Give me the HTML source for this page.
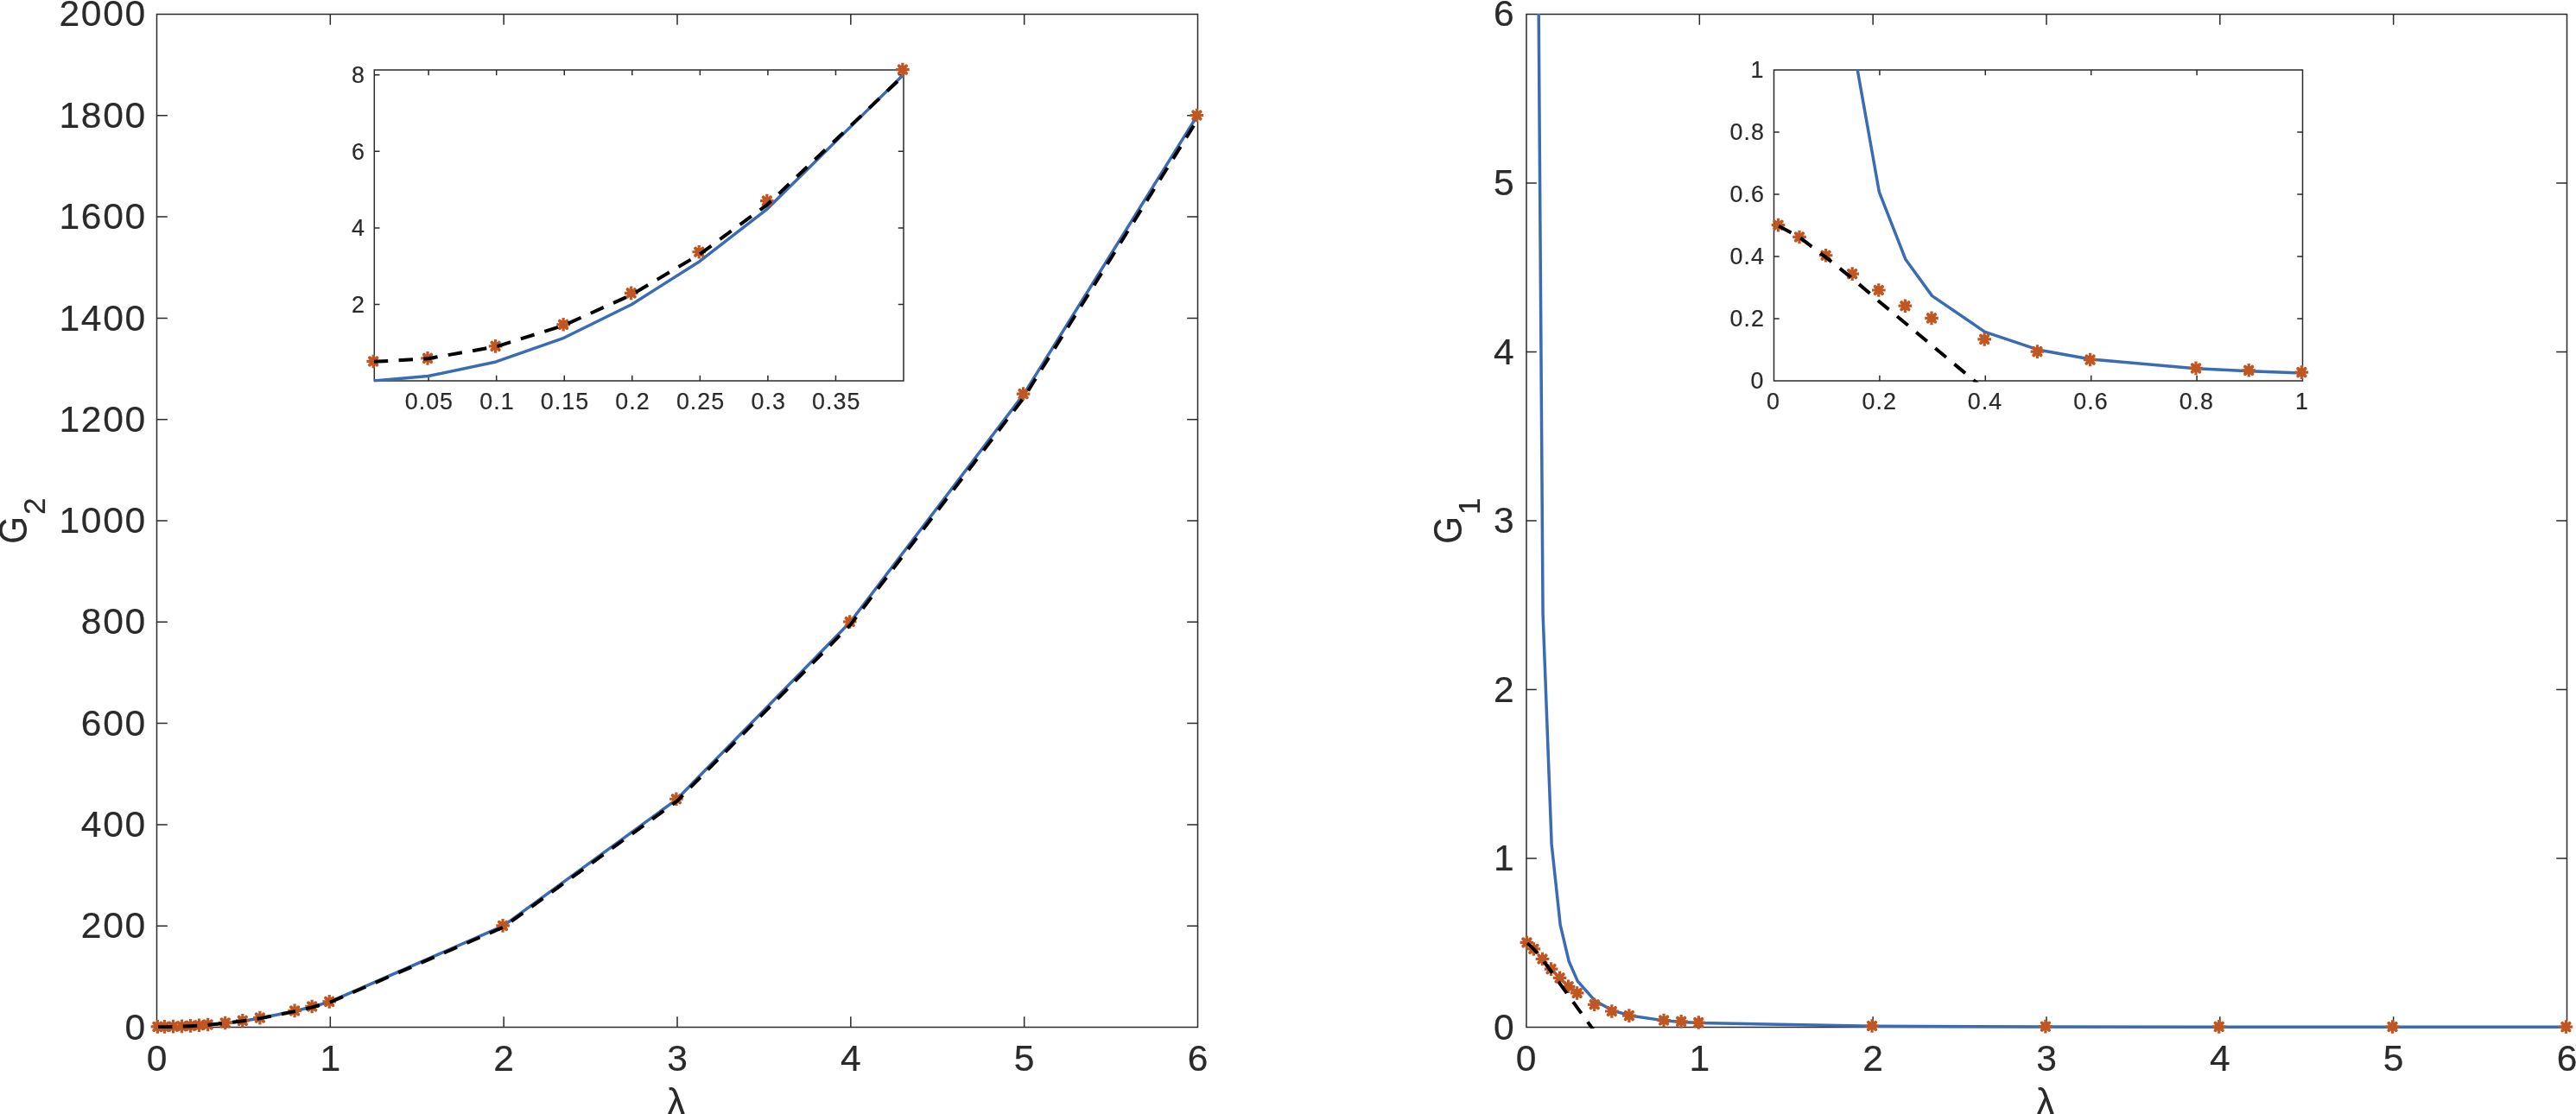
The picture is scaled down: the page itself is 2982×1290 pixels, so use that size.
<!DOCTYPE html>
<html lang="en"><head><meta charset="utf-8"><title>G2 and G1 versus lambda</title>
<style>html,body{margin:0;padding:0;background:#fff;overflow:hidden}svg{display:block;will-change:transform;filter:blur(.45px)}text{font-family:"Liberation Sans",sans-serif;fill:#2a2a2a;stroke:#2a2a2a;stroke-width:.2px}</style></head>
<body><svg width="2982" height="1290" viewBox="0 0 2982 1290">
<rect width="2982" height="1290" fill="#fff"/>
<defs><g id="m" stroke="#c05621" fill="none"><circle r="4.7" fill="#c05621" stroke="none"/><path d="M-7.8 0H7.8M0 -7.8V7.8" stroke-width="3.2"/><path d="M-4.2 -4.2L4.2 4.2M-4.2 4.2L4.2 -4.2" stroke-width="3.9" stroke-linecap="round"/></g>
<clipPath id="cl"><rect x="180.9" y="15.9" width="1207.1" height="1175.1"/></clipPath>
<clipPath id="cr"><rect x="1765.9" y="15.9" width="1207.1" height="1175.1"/></clipPath>
<clipPath id="cli"><rect x="432.7" y="80.4" width="614.8" height="362"/></clipPath>
<clipPath id="cri"><rect x="2052.9" y="80.4" width="614.1" height="362"/></clipPath>
</defs>
<path d="M181.5 16.5H1386.5V1189.5H181.5ZM382.33 1189.5v-12.3M382.33 16.5v12.3M583.17 1189.5v-12.3M583.17 16.5v12.3M784 1189.5v-12.3M784 16.5v12.3M984.83 1189.5v-12.3M984.83 16.5v12.3M1185.67 1189.5v-12.3M1185.67 16.5v12.3M181.5 1072.2h12.3M1386.5 1072.2h-12.3M181.5 954.9h12.3M1386.5 954.9h-12.3M181.5 837.6h12.3M1386.5 837.6h-12.3M181.5 720.3h12.3M1386.5 720.3h-12.3M181.5 603h12.3M1386.5 603h-12.3M181.5 485.7h12.3M1386.5 485.7h-12.3M181.5 368.4h12.3M1386.5 368.4h-12.3M181.5 251.1h12.3M1386.5 251.1h-12.3M181.5 133.8h12.3M1386.5 133.8h-12.3" fill="none" stroke="#2a2a2a" stroke-width="1.5"/>
<polyline clip-path="url(#cl)" points="183.01,1189.5 191.04,1189.43 201.08,1189.21 211.12,1188.84 221.17,1188.33 231.21,1187.67 241.25,1186.86 261.33,1184.81 281.42,1182.17 301.5,1178.94 341.67,1170.73 361.75,1165.75 381.83,1160.17 582.67,1072.2 783.5,925.58 984.33,720.3 1185.17,456.38 1386,133.8" fill="none" stroke="#3a6bb5" stroke-width="3.5" stroke-linejoin="round"/>
<g><use href="#m" x="182.41" y="1188.9"/><use href="#m" x="190.44" y="1188.86"/><use href="#m" x="200.48" y="1188.67"/><use href="#m" x="210.53" y="1188.34"/><use href="#m" x="220.57" y="1187.86"/><use href="#m" x="230.61" y="1187.23"/><use href="#m" x="240.65" y="1186.44"/><use href="#m" x="260.73" y="1184.43"/><use href="#m" x="280.82" y="1181.81"/><use href="#m" x="300.9" y="1178.6"/><use href="#m" x="341.07" y="1170.41"/><use href="#m" x="361.15" y="1165.43"/><use href="#m" x="381.23" y="1159.86"/><use href="#m" x="582.07" y="1071.9"/><use href="#m" x="782.9" y="925.27"/><use href="#m" x="983.73" y="720"/><use href="#m" x="1184.57" y="456.07"/><use href="#m" x="1385.4" y="133.5"/></g>
<polyline clip-path="url(#cl)" points="183.01,1189.2 191.04,1189.16 201.08,1188.97 211.12,1188.65 221.17,1188.18 231.21,1187.56 241.25,1186.79 261.33,1184.82 281.42,1182.28 301.5,1179.14 341.67,1171.11 361.75,1166.22 381.83,1160.74 582.67,1073.67 783.5,927.96 984.33,723.59 1185.17,460.57 1386,138.91" fill="none" stroke="#000000" stroke-width="4.0" stroke-dasharray="16.45 12.34" stroke-linejoin="round"/>
<path d="M1767 16.5H2971.5V1189.5H1767ZM1967.33 1189.5v-12.3M1967.33 16.5v12.3M2168.17 1189.5v-12.3M2168.17 16.5v12.3M2369 1189.5v-12.3M2369 16.5v12.3M2569.83 1189.5v-12.3M2569.83 16.5v12.3M2770.67 1189.5v-12.3M2770.67 16.5v12.3M1766.5 994h12.3M2971.5 994h-12.3M1766.5 798.5h12.3M2971.5 798.5h-12.3M1766.5 603h12.3M2971.5 603h-12.3M1766.5 407.5h12.3M2971.5 407.5h-12.3M1766.5 212h12.3M2971.5 212h-12.3" fill="none" stroke="#2a2a2a" stroke-width="1.5"/>
<polyline clip-path="url(#cr)" points="1768.01,-47685.5 1776.04,-716.62 1786.08,710.52 1796.12,977.38 1806.17,1070.83 1816.21,1113.26 1826.25,1136.13 1846.33,1158.81 1866.42,1169.95 1886.5,1175.92 1926.67,1181.86 1946.75,1183.47 1966.83,1184.61 2167.67,1188.28 2368.5,1188.96 2569.33,1189.19 2770.17,1189.3 2971,1189.36" fill="none" stroke="#3a6bb5" stroke-width="3.5" stroke-linejoin="round"/>
<g><use href="#m" x="1767.41" y="1091.45"/><use href="#m" x="1775.44" y="1098.94"/><use href="#m" x="1785.48" y="1110.51"/><use href="#m" x="1795.53" y="1122.14"/><use href="#m" x="1805.57" y="1132.39"/><use href="#m" x="1815.61" y="1142.28"/><use href="#m" x="1825.65" y="1149.96"/><use href="#m" x="1845.73" y="1163.26"/><use href="#m" x="1865.82" y="1171.02"/><use href="#m" x="1885.9" y="1176.14"/><use href="#m" x="1926.07" y="1181.5"/><use href="#m" x="1946.15" y="1182.79"/><use href="#m" x="1966.23" y="1184.06"/><use href="#m" x="2167.07" y="1187.98"/><use href="#m" x="2367.9" y="1188.66"/><use href="#m" x="2568.73" y="1188.89"/><use href="#m" x="2769.57" y="1189"/><use href="#m" x="2970.4" y="1189.06"/></g>
<polyline clip-path="url(#cr)" points="1768.01,1092.14 1776.04,1099.45 1786.08,1112.08 1796.12,1125.38 1806.17,1139.69 1816.21,1153.41 1826.25,1167.33 1846.33,1195.09 1866.42,1225.39 1886.5,1255.7 1926.67,1316.3 1946.75,1346.6 1966.83,1376.91 2167.67,1679.93 2368.5,1982.96 2569.33,2285.98 2770.17,2589.01 2971,2892.03" fill="none" stroke="#000000" stroke-width="4.0" stroke-dasharray="16.45 12.34" stroke-linejoin="round"/>
<rect x="433.3" y="81" width="612.7" height="359.9" fill="#fff"/>
<path d="M433.3 81H1046V440.9H433.3ZM496.14 440.9v-6.2M496.14 81v6.2M574.69 440.9v-6.2M574.69 81v6.2M653.24 440.9v-6.2M653.24 81v6.2M731.79 440.9v-6.2M731.79 81v6.2M810.35 440.9v-6.2M810.35 81v6.2M888.9 440.9v-6.2M888.9 81v6.2M967.45 440.9v-6.2M967.45 81v6.2M433.3 352.53h6.2M1046 352.53h-6.2M433.3 263.94h6.2M1046 263.94h-6.2M433.3 175.35h6.2M1046 175.35h-6.2M433.3 86.76h6.2M1046 86.76h-6.2" fill="none" stroke="#2a2a2a" stroke-width="1.5"/>
<polyline clip-path="url(#cli)" points="432.8,440.9 495.64,435.58 574.19,418.97 652.74,391.29 731.29,352.53 809.85,302.7 888.4,241.79 1045.5,86.76" fill="none" stroke="#3a6bb5" stroke-width="3.5" stroke-linejoin="round"/>
<g><use href="#m" x="432.2" y="418.45"/><use href="#m" x="495.04" y="414.83"/><use href="#m" x="573.59" y="400.84"/><use href="#m" x="652.14" y="375.8"/><use href="#m" x="730.69" y="339.36"/><use href="#m" x="809.25" y="291.77"/><use href="#m" x="887.8" y="232.6"/><use href="#m" x="1044.9" y="80.58"/></g>
<polyline clip-path="url(#cli)" points="432.8,418.84 495.64,415.18 574.19,401.43 652.74,376.76 731.29,341.24 809.85,294.52 888.4,236.77 1045.5,88.03" fill="none" stroke="#000000" stroke-width="4.0" stroke-dasharray="16.45 12.34" stroke-linejoin="round"/>
<rect x="2053.5" y="81" width="612" height="359.9" fill="#fff"/>
<path d="M2053.5 81H2665.5V440.9H2053.5ZM2175.9 440.9v-6.2M2175.9 81v6.2M2298.3 440.9v-6.2M2298.3 81v6.2M2420.7 440.9v-6.2M2420.7 81v6.2M2543.1 440.9v-6.2M2543.1 81v6.2M2053.5 368.92h6.2M2665.5 368.92h-6.2M2053.5 296.94h6.2M2665.5 296.94h-6.2M2053.5 224.96h6.2M2665.5 224.96h-6.2M2053.5 152.98h6.2M2665.5 152.98h-6.2" fill="none" stroke="#2a2a2a" stroke-width="1.5"/>
<polyline clip-path="url(#cri)" points="2059.12,-89534.1 2083.6,-3068.12 2114.2,-440.86 2144.8,50.41 2175.4,222.44 2206,300.54 2236.6,342.65 2297.8,384.4 2359,404.91 2420.2,415.91 2542.6,426.84 2603.8,429.79 2665,431.9" fill="none" stroke="#3a6bb5" stroke-width="3.5" stroke-linejoin="round"/>
<g><use href="#m" x="2058.52" y="260.65"/><use href="#m" x="2083" y="274.43"/><use href="#m" x="2113.6" y="295.74"/><use href="#m" x="2144.2" y="317.15"/><use href="#m" x="2174.8" y="336.01"/><use href="#m" x="2205.4" y="354.22"/><use href="#m" x="2236" y="368.37"/><use href="#m" x="2297.2" y="392.84"/><use href="#m" x="2358.4" y="407.13"/><use href="#m" x="2419.6" y="416.56"/><use href="#m" x="2542" y="426.42"/><use href="#m" x="2603.2" y="428.8"/><use href="#m" x="2664.4" y="431.13"/></g>
<polyline clip-path="url(#cri)" points="2059.12,261.67 2083.6,275.13 2114.2,298.38 2144.8,322.85 2175.4,349.2 2206,374.46 2236.6,400.09 2297.8,451.19 2359,506.98 2420.2,562.76 2542.6,674.33 2603.8,730.12 2665,785.9" fill="none" stroke="#000000" stroke-width="4.0" stroke-dasharray="16.45 12.34" stroke-linejoin="round"/>
<g>
<text x="144.49" y="1203.6" font-size="42.61" letter-spacing="1.62">0</text>
<text x="93.85" y="1086.3" font-size="42.61" letter-spacing="1.62">200</text>
<text x="93.85" y="969" font-size="42.61" letter-spacing="1.62">400</text>
<text x="93.85" y="851.7" font-size="42.61" letter-spacing="1.62">600</text>
<text x="93.85" y="734.4" font-size="42.61" letter-spacing="1.62">800</text>
<text x="68.52" y="617.1" font-size="42.61" letter-spacing="1.62">1000</text>
<text x="68.52" y="499.8" font-size="42.61" letter-spacing="1.62">1200</text>
<text x="68.52" y="382.5" font-size="42.61" letter-spacing="1.62">1400</text>
<text x="68.52" y="265.2" font-size="42.61" letter-spacing="1.62">1600</text>
<text x="68.52" y="147.9" font-size="42.61" letter-spacing="1.62">1800</text>
<text x="68.52" y="29.7" font-size="42.61" letter-spacing="1.62">2000</text>
<text x="169.65" y="1239.6" font-size="42.61" letter-spacing="1.62">0</text>
<text x="1754.65" y="1239.6" font-size="42.61" letter-spacing="1.62">0</text>
<text x="1729.09" y="1203.6" font-size="42.61" letter-spacing="1.62">0</text>
<text x="370.48" y="1239.6" font-size="42.61" letter-spacing="1.62">1</text>
<text x="1955.48" y="1239.6" font-size="42.61" letter-spacing="1.62">1</text>
<text x="1729.09" y="1008.1" font-size="42.61" letter-spacing="1.62">1</text>
<text x="571.32" y="1239.6" font-size="42.61" letter-spacing="1.62">2</text>
<text x="2156.32" y="1239.6" font-size="42.61" letter-spacing="1.62">2</text>
<text x="1729.09" y="812.6" font-size="42.61" letter-spacing="1.62">2</text>
<text x="772.15" y="1239.6" font-size="42.61" letter-spacing="1.62">3</text>
<text x="2357.15" y="1239.6" font-size="42.61" letter-spacing="1.62">3</text>
<text x="1729.09" y="617.1" font-size="42.61" letter-spacing="1.62">3</text>
<text x="972.98" y="1239.6" font-size="42.61" letter-spacing="1.62">4</text>
<text x="2557.98" y="1239.6" font-size="42.61" letter-spacing="1.62">4</text>
<text x="1729.09" y="421.6" font-size="42.61" letter-spacing="1.62">4</text>
<text x="1173.82" y="1239.6" font-size="42.61" letter-spacing="1.62">5</text>
<text x="2758.82" y="1239.6" font-size="42.61" letter-spacing="1.62">5</text>
<text x="1729.09" y="226.1" font-size="42.61" letter-spacing="1.62">5</text>
<text x="1374.65" y="1239.6" font-size="42.61" letter-spacing="1.62">6</text>
<text x="2959.65" y="1239.6" font-size="42.61" letter-spacing="1.62">6</text>
<text x="1729.09" y="29.7" font-size="42.61" letter-spacing="1.62">6</text>
<text x="406.94" y="362.03" font-size="26.87" letter-spacing="1.02">2</text>
<text x="406.94" y="273.44" font-size="26.87" letter-spacing="1.02">4</text>
<text x="406.94" y="184.85" font-size="26.87" letter-spacing="1.02">6</text>
<text x="406.94" y="96.26" font-size="26.87" letter-spacing="1.02">8</text>
<text x="468.71" y="473.8" font-size="26.87" letter-spacing="1.02">0.05</text>
<text x="555.25" y="473.8" font-size="26.87" letter-spacing="1.02">0.1</text>
<text x="625.81" y="473.8" font-size="26.87" letter-spacing="1.02">0.15</text>
<text x="712.35" y="473.8" font-size="26.87" letter-spacing="1.02">0.2</text>
<text x="782.91" y="473.8" font-size="26.87" letter-spacing="1.02">0.25</text>
<text x="869.45" y="473.8" font-size="26.87" letter-spacing="1.02">0.3</text>
<text x="940.02" y="473.8" font-size="26.87" letter-spacing="1.02">0.35</text>
<text x="2026.44" y="450.3" font-size="26.87" letter-spacing="1.02">0</text>
<text x="2045.03" y="473.8" font-size="26.87" letter-spacing="1.02">0</text>
<text x="2002.49" y="378.32" font-size="26.87" letter-spacing="1.02">0.2</text>
<text x="2155.45" y="473.8" font-size="26.87" letter-spacing="1.02">0.2</text>
<text x="2002.49" y="306.34" font-size="26.87" letter-spacing="1.02">0.4</text>
<text x="2277.85" y="473.8" font-size="26.87" letter-spacing="1.02">0.4</text>
<text x="2002.49" y="234.36" font-size="26.87" letter-spacing="1.02">0.6</text>
<text x="2400.25" y="473.8" font-size="26.87" letter-spacing="1.02">0.6</text>
<text x="2002.49" y="162.38" font-size="26.87" letter-spacing="1.02">0.8</text>
<text x="2522.65" y="473.8" font-size="26.87" letter-spacing="1.02">0.8</text>
<text x="2026.44" y="90.4" font-size="26.87" letter-spacing="1.02">1</text>
<text x="2657.03" y="473.8" font-size="26.87" letter-spacing="1.02">1</text>
</g>
<text x="771.35" y="1293" font-size="46.1" style="stroke-width:0">λ</text>
<text x="2356.35" y="1293" font-size="46.1" style="stroke-width:0">λ</text>
<text transform="translate(31.4 629.75) rotate(-90) scale(0.871 1)" font-size="46.9">G</text>
<text transform="translate(52.2 596) rotate(-90)" font-size="35.17">2</text>
<text transform="translate(1692.4 629.75) rotate(-90) scale(0.871 1)" font-size="46.9">G</text>
<text transform="translate(1713.2 596) rotate(-90)" font-size="35.17">1</text>
</svg></body></html>
